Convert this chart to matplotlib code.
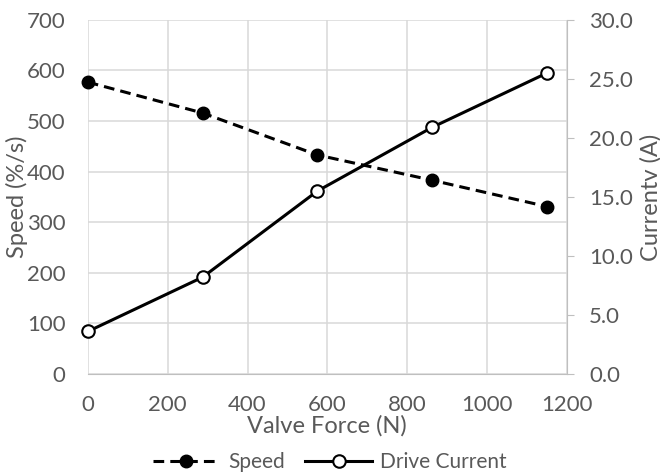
import matplotlib
matplotlib.use("Agg")
import matplotlib.pyplot as plt
from matplotlib.ticker import FormatStrFormatter

force = [0, 287.5, 575, 862.5, 1150]
speed = [577, 516, 433, 383, 331]
current = [3.6, 8.2, 15.5, 20.9, 25.5]
x_ticks = [0, 200, 400, 600, 800, 1000, 1200]
left_ticks = [0, 100, 200, 300, 400, 500, 600, 700]
right_ticks = [0, 5, 10, 15, 20, 25, 30]

plt.rcParams['font.family'] = ['Lato', 'DejaVu Sans']
txt = '#595959'
grid = '#d9d9d9'

fig = plt.figure(figsize=(6.6, 4.74), dpi=100)
ax = fig.add_axes([0.133, 0.211, 0.726, 0.747])
ax2 = ax.twinx()

ax.set_xlim(0, 1200)
ax.set_ylim(0, 700)
ax2.set_ylim(0, 30)
ax.set_xticks(x_ticks)
ax.set_yticks(left_ticks)
ax2.set_yticks(right_ticks)
ax2.yaxis.set_major_formatter(FormatStrFormatter('%.1f'))

ax.grid(True, color=grid, linewidth=1.1)
ax.set_axisbelow(True)
for a in (ax, ax2):
    for s in a.spines.values():
        s.set_visible(False)
ax.spines['bottom'].set_visible(True)
ax.spines['bottom'].set_color('#bfbfbf')
ax2.spines['right'].set_visible(True)
ax2.spines['right'].set_color('#bfbfbf')

ax.tick_params(axis='both', length=0, labelsize=16, colors=txt)
ax.tick_params(axis='y', pad=16)
ax.tick_params(axis='x', pad=15)
ax2.tick_params(axis='y', length=5, color='#bfbfbf', labelsize=16, labelcolor=txt, pad=11)

l1, = ax.plot(force, speed, color='black', linewidth=2.2, dashes=(3.5, 2),
              marker='o', markersize=9, markerfacecolor='black', markeredgecolor='black',
              label='Speed', zorder=3, clip_on=False)
l2, = ax2.plot(force, current, color='black', linewidth=2.2,
               marker='o', markersize=9, markerfacecolor='white', markeredgecolor='black',
               markeredgewidth=1.5, label='Drive Current', zorder=3, clip_on=False)

ax.set_xlabel('Valve Force (N)', fontsize=17, color=txt, labelpad=0)
ax.set_ylabel('Speed (%/s)', fontsize=17, color=txt, labelpad=-1)
ax2.set_ylabel('Currentv (A)', fontsize=17, color=txt, labelpad=5)

fig.legend(handles=[l1, l2], loc='lower center', bbox_to_anchor=(0.5, -0.035), ncol=2,
           frameon=False, fontsize=15, labelcolor=txt, handlelength=3.2,
           columnspacing=1.0, handletextpad=0.4)

fig.savefig('out.png', dpi=100)
